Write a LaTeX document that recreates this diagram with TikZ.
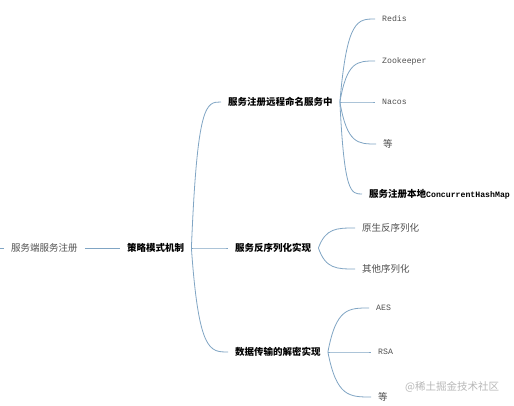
\documentclass[tikz,border=0pt]{standalone}
\usepackage{fontspec}
\usetikzlibrary{calc}
\newfontfamily\cjk{Noto Sans CJK SC}
\newfontfamily\lat{Liberation Mono}
\definecolor{lnkc}{RGB}{128,165,196}
\definecolor{txtc}{RGB}{80,80,80}
\tikzset{
  lnk/.style={draw=lnkc, line width=0.8pt},
  mm/.style={anchor=west, inner xsep=7pt, inner ysep=2pt, text=txtc, font=\fontsize{9.5pt}{11pt}\cjk},
  mmb/.style={mm, text=black, font=\fontsize{9.5pt}{11pt}\cjk\bfseries},
  latn/.style={mm, font=\fontsize{8.2pt}{10pt}\lat},
}
\newcommand\mmlink[2]{%
  \draw[lnk] let \p1=(#1.east), \p2=(#2.west) in
    (\p1) .. controls ({\x1+0.2*(\x2-\x1)},\y2) and ({\x1+0.5*(\x2-\x1)},\y2) .. (\p2);}
\begin{document}
\begin{tikzpicture}[x=1pt,y=-1pt]
\useasboundingbox[fill=white] (0,0) rectangle (514,406);
% nodes
\node[mm] (root) at (4,248) {服务端服务注册};
\node[mmb] (s) at (120,248) {策略模式机制};
\node[mmb] (a) at (221,102) {服务注册远程命名服务中};
\node[mmb] (b) at (228,248) {服务反序列化实现};
\node[mmb] (c) at (228,352) {数据传输的解密实现};
\node[latn] (a1) at (375,19) {Redis};
\node[latn] (a2) at (375,61) {Zookeeper};
\node[latn] (a3) at (375,102) {Nacos};
\node[mm] (a4) at (376,144) {等};
\node[mmb] (a5) at (362,194) {服务注册本地{\fontsize{8.2pt}{10pt}\lat\bfseries ConcurrentHashMap}};
\node[mm] (b1) at (355,228) {原生反序列化};
\node[mm] (b2) at (355,269) {其他序列化};
\node[latn] (c1) at (369,308) {AES};
\node[latn] (c2) at (371,352) {RSA};
\node[mm] (c3) at (371,397) {等};
\coordinate (lft) at (-5,248);
% connectors
\draw[lnk] (lft) -- (root.west);
\draw[lnk] (root.east) -- (s.west);
\mmlink{s}{a}
\mmlink{s}{b}
\mmlink{s}{c}
\mmlink{a}{a1}
\mmlink{a}{a2}
\mmlink{a}{a3}
\mmlink{a}{a4}
\mmlink{a}{a5}
\mmlink{b}{b1}
\mmlink{b}{b2}
\mmlink{c}{c1}
\mmlink{c}{c2}
\mmlink{c}{c3}
% watermark
\node[anchor=west, inner sep=0pt, text=black!28, font=\fontsize{10.5pt}{12pt}\cjk] (wm) at (405,387) {@稀土掘金技术社区};
\end{tikzpicture}
\end{document}
